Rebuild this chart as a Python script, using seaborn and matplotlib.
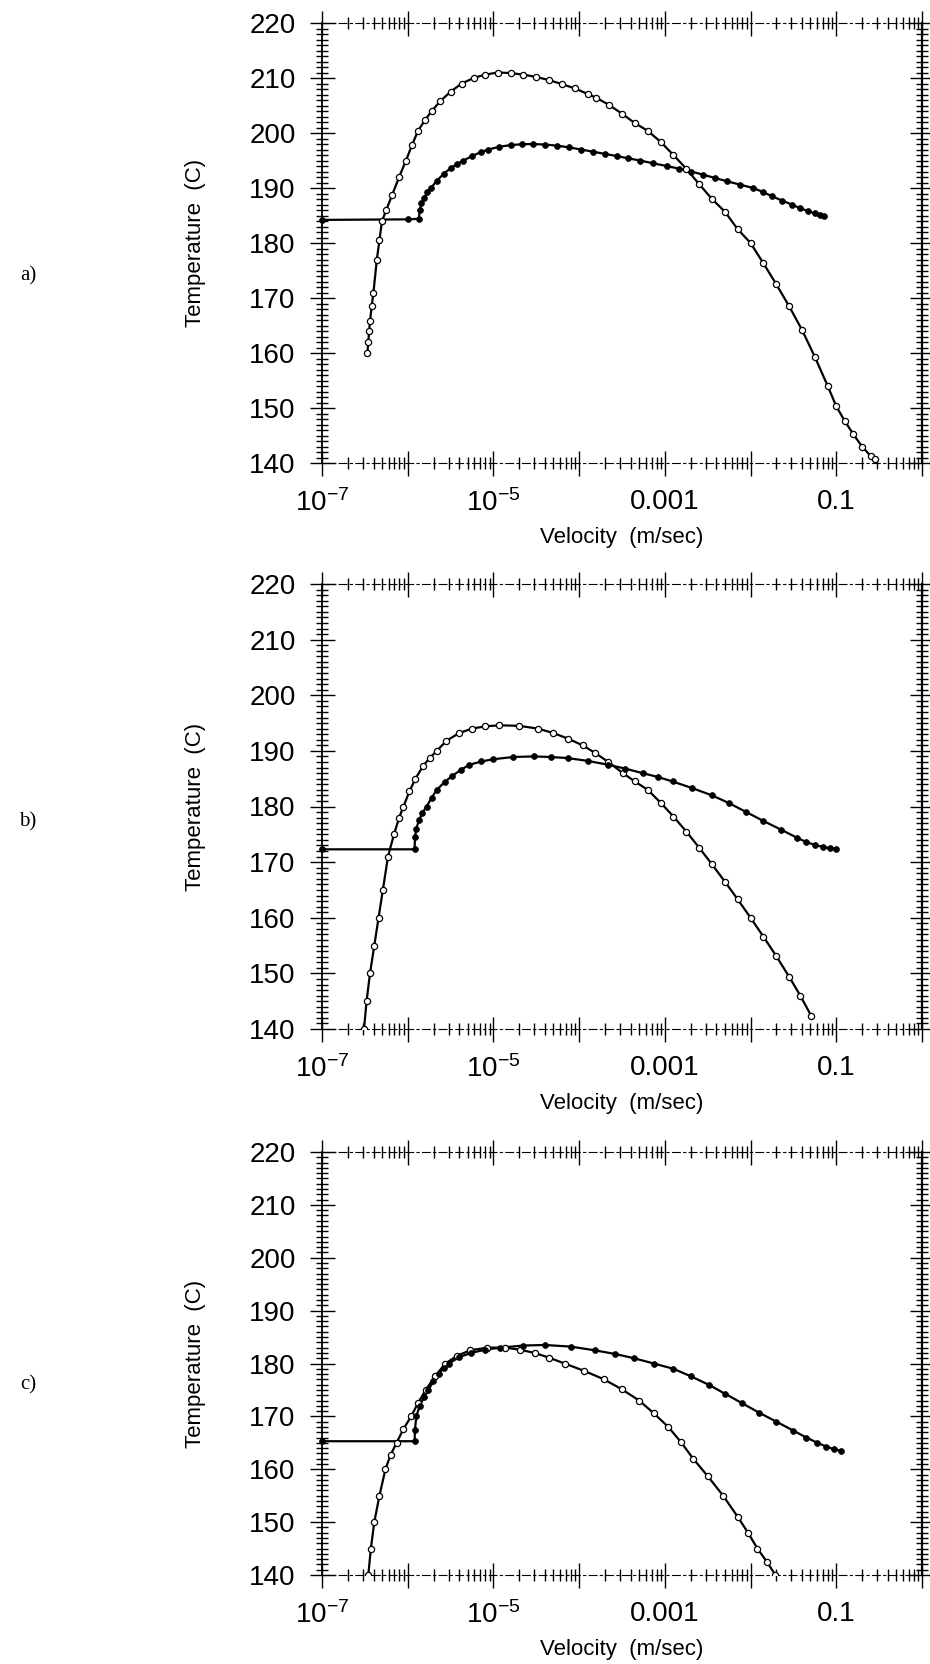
import numpy as np
import matplotlib
matplotlib.use("Agg")
import matplotlib.pyplot as plt
import seaborn as sns
from matplotlib.ticker import LogLocator, MultipleLocator, NullFormatter

# ---------------- data (log10 velocity in m/s, temperature in C) ----------------
# panel a : open-circle series
a_open_logv = [-6.47, -6.46, -6.45, -6.44, -6.42, -6.40, -6.36, -6.33, -6.30, -6.25, -6.18,
               -6.10, -6.02, -5.95, -5.88, -5.80, -5.72, -5.62, -5.50, -5.37, -5.23, -5.10,
               -4.95, -4.80, -4.65, -4.50, -4.35, -4.20, -4.05, -3.90, -3.80, -3.65, -3.50,
               -3.35, -3.20, -3.05, -2.90, -2.75, -2.60, -2.45, -2.30, -2.15, -2.00, -1.85,
               -1.70, -1.55, -1.40, -1.25, -1.10, -1.00, -0.90, -0.80, -0.70, -0.60, -0.55]
a_open_temp = [160, 162, 164, 165.8, 168.5, 171, 177, 180.5, 184, 186, 188.8,
               192, 195, 197.8, 200.4, 202.3, 204, 205.8, 207.5, 209, 210, 210.6,
               211, 210.9, 210.6, 210.2, 209.6, 208.9, 208.1, 207.1, 206.4, 205.1, 203.5,
               201.8, 200.4, 198.4, 196, 193.5, 190.7, 188, 185.7, 182.5, 180, 176.3,
               172.5, 168.5, 164.2, 159.3, 154, 150.3, 147.6, 145.2, 143, 141.3, 140.7]
# panel a : filled-circle series
a_fill_logv = [-7.00, -6.00, -5.87, -5.86, -5.84, -5.81, -5.77, -5.73, -5.66, -5.58, -5.50,
               -5.42, -5.35, -5.25, -5.15, -5.06, -4.93, -4.80, -4.67, -4.54, -4.40, -4.26,
               -4.12, -3.98, -3.84, -3.70, -3.56, -3.43, -3.29, -3.14, -2.98, -2.83, -2.69,
               -2.55, -2.41, -2.27, -2.12, -1.97, -1.86, -1.75, -1.63, -1.52, -1.42, -1.33,
               -1.25, -1.19, -1.14]
a_fill_temp = [184.2, 184.3, 184.4, 186, 187.2, 188.2, 189.2, 190, 191.3, 192.6, 193.6,
               194.4, 195, 195.8, 196.5, 197, 197.5, 197.8, 197.95, 198, 197.9, 197.7,
               197.4, 197, 196.6, 196.2, 195.8, 195.4, 195, 194.5, 194, 193.5, 193,
               192.4, 191.8, 191.2, 190.6, 190, 189.3, 188.5, 187.7, 187, 186.3, 185.8,
               185.4, 185.15, 185]

# panel b
b_open_logv = [-6.51, -6.48, -6.44, -6.39, -6.34, -6.29, -6.23, -6.16, -6.10, -6.05, -5.98,
               -5.91, -5.82, -5.74, -5.66, -5.55, -5.40, -5.25, -5.10, -4.93, -4.70, -4.48,
               -4.30, -4.13, -3.96, -3.81, -3.66, -3.49, -3.35, -3.20, -3.05, -2.90, -2.75,
               -2.60, -2.45, -2.30, -2.15, -2.00, -1.85, -1.70, -1.55, -1.42, -1.29]
b_open_temp = [140, 145, 150, 155, 160, 165, 171, 175, 178, 180, 182.7,
               185, 187.3, 188.8, 190, 191.8, 193.2, 194, 194.4, 194.6, 194.5, 194,
               193.2, 192.2, 191, 189.6, 188, 186, 184.5, 183, 180.7, 178.2, 175.5,
               172.6, 169.6, 166.5, 163.3, 160, 156.6, 153.1, 149.4, 146, 142.3]
b_fill_logv = [-7.00, -5.92, -5.915, -5.90, -5.87, -5.83, -5.78, -5.72, -5.66, -5.57, -5.48,
               -5.38, -5.28, -5.14, -5.00, -4.77, -4.53, -4.33, -4.13, -3.90, -3.66, -3.46,
               -3.26, -3.08, -2.91, -2.68, -2.45, -2.25, -2.05, -1.85, -1.64, -1.46, -1.35,
               -1.25, -1.15, -1.07, -1.00]
b_fill_temp = [172.3, 172.3, 174.5, 176, 177.5, 178.8, 180, 181.6, 183, 184.4, 185.5,
               186.6, 187.5, 188.1, 188.5, 188.9, 189, 188.9, 188.7, 188.2, 187.5, 186.8,
               186, 185.3, 184.5, 183.3, 182, 180.6, 179, 177.4, 175.8, 174.4, 173.6,
               173.1, 172.7, 172.5, 172.4]

# panel c
c_open_logv = [-6.46, -6.43, -6.39, -6.33, -6.26, -6.20, -6.13, -6.05, -5.96, -5.88, -5.79,
               -5.68, -5.56, -5.42, -5.27, -5.07, -4.86, -4.69, -4.52, -4.35, -4.17, -3.94,
               -3.71, -3.50, -3.30, -3.13, -2.96, -2.81, -2.67, -2.50, -2.32, -2.15, -2.03,
               -1.92, -1.81, -1.71]
c_open_temp = [140, 145, 150, 155, 160, 162.7, 165, 167.6, 170, 172.5, 175,
               177.6, 180, 181.5, 182.5, 183, 183, 182.6, 182, 181.1, 180, 178.6,
               177, 175.1, 173, 170.6, 168, 165.1, 162, 158.7, 155, 151, 148,
               145, 142.5, 140]
c_fill_logv = [-7.00, -5.92, -5.915, -5.90, -5.86, -5.81, -5.76, -5.70, -5.64, -5.58, -5.52,
               -5.40, -5.26, -5.10, -4.92, -4.65, -4.40, -4.10, -3.82, -3.58, -3.36, -3.13,
               -2.90, -2.70, -2.49, -2.30, -2.10, -1.90, -1.70, -1.50, -1.35, -1.22, -1.12,
               -1.03, -0.95]
c_fill_temp = [165.3, 165.3, 167.5, 170, 172, 173.6, 175, 176.6, 178, 179.1, 180,
               181.2, 182, 182.6, 183, 183.4, 183.5, 183.2, 182.5, 181.8, 181, 180,
               179, 177.6, 176, 174.3, 172.5, 170.7, 169, 167.3, 166, 165, 164.3,
               163.8, 163.5]

panel_letters = ["a)", "b)", "c)"]
xtick_values = [1e-7, 1e-6, 1e-5, 1e-4, 1e-3, 1e-2, 1e-1, 1e0]
xtick_labels = [r"$\mathregular{10^{-7}}$", "", r"$\mathregular{10^{-5}}$", "", "0.001", "", "0.1", ""]
ytick_values = [140, 150, 160, 170, 180, 190, 200, 210, 220]
x_label = "Velocity  (m/sec)"
y_label = "Temperature  (C)"

# ---------------- styling ----------------
sns.set_theme(style="white")
plt.rcParams["font.family"] = ["Liberation Sans", "DejaVu Sans"]
plt.rcParams["mathtext.fontset"] = "custom"
plt.rcParams["mathtext.rm"] = "Liberation Sans"
plt.rcParams["mathtext.it"] = "Liberation Sans"
plt.rcParams["mathtext.bf"] = "Liberation Sans"

W, H = 930, 1664
fig = plt.figure(figsize=(W / 100, H / 100), dpi=100)
left_px, right_px = 322, 922
boxes_px = [(23, 463), (584, 1029), (1152, 1575)]   # (top, bottom) of each axes
letter_px = [(28, 276), (28, 822), (28, 1385)]

panels = [
    (a_open_logv, a_open_temp, a_fill_logv, a_fill_temp),
    (b_open_logv, b_open_temp, b_fill_logv, b_fill_temp),
    (c_open_logv, c_open_temp, c_fill_logv, c_fill_temp),
]

for i, (ol, ot, fl, ft) in enumerate(panels):
    top, bot = boxes_px[i]
    ax = fig.add_axes([left_px / W, 1 - bot / H, (right_px - left_px) / W, (bot - top) / H])
    ov = 10 ** np.array(ol)
    fv = 10 ** np.array(fl)
    sns.lineplot(x=ov, y=ot, ax=ax, color="black", lw=1.6, sort=False, estimator=None)
    sns.lineplot(x=fv, y=ft, ax=ax, color="black", lw=1.6, sort=False, estimator=None)
    sns.scatterplot(x=ov, y=ot, ax=ax, marker="o", s=20, facecolor="white",
                    edgecolor="black", linewidth=0.9, zorder=3)
    sns.scatterplot(x=fv[1:], y=ft[1:], ax=ax, marker="o", s=18, color="black",
                    edgecolor="black", linewidth=0.5, zorder=4)
    sns.scatterplot(x=fv[:1], y=ft[:1], ax=ax, marker="o", s=18, color="black",
                    edgecolor="black", linewidth=0.5, zorder=4, clip_on=False)

    ax.set_xscale("log")
    ax.set_xlim(1e-7, 1e0)
    ax.set_ylim(140, 220)
    ax.set_xticks(xtick_values, labels=xtick_labels)
    ax.xaxis.set_minor_locator(LogLocator(base=10, subs=np.arange(2, 10), numticks=20))
    ax.xaxis.set_minor_formatter(NullFormatter())
    ax.set_yticks(ytick_values)
    ax.yaxis.set_minor_locator(MultipleLocator(1))

    ax.tick_params(which="major", direction="inout", length=18, width=1.0,
                   top=True, right=True, bottom=True, left=True,
                   labelsize=20, pad=10, color="black", labelcolor="black")
    ax.tick_params(which="minor", direction="inout", length=9, width=1.0,
                   top=True, right=True, bottom=True, left=True, color="black")

    for side in ["top", "bottom"]:
        ax.spines[side].set_linestyle((0, (7, 3, 2, 3)))
        ax.spines[side].set_linewidth(0.8)
        ax.spines[side].set_color("black")
    ax.spines["left"].set_linewidth(1.3)
    ax.spines["left"].set_color("black")
    ax.spines["right"].set_linewidth(1.6)
    ax.spines["right"].set_color("black")

    ax.set_xlabel(x_label, fontsize=16, color="black")
    ax.set_ylabel(y_label, fontsize=16, color="black")
    ax.yaxis.set_label_coords(-116 / (right_px - left_px), 0.5)
    ax.xaxis.set_label_coords(0.5, -64 / (bot - top))

    fig.text(letter_px[i][0] / W, 1 - letter_px[i][1] / H, panel_letters[i],
             family=["Liberation Serif", "DejaVu Serif"],
             fontsize=15, ha="center", va="center", color="black")

fig.savefig("out.png", dpi=100, facecolor="white")
